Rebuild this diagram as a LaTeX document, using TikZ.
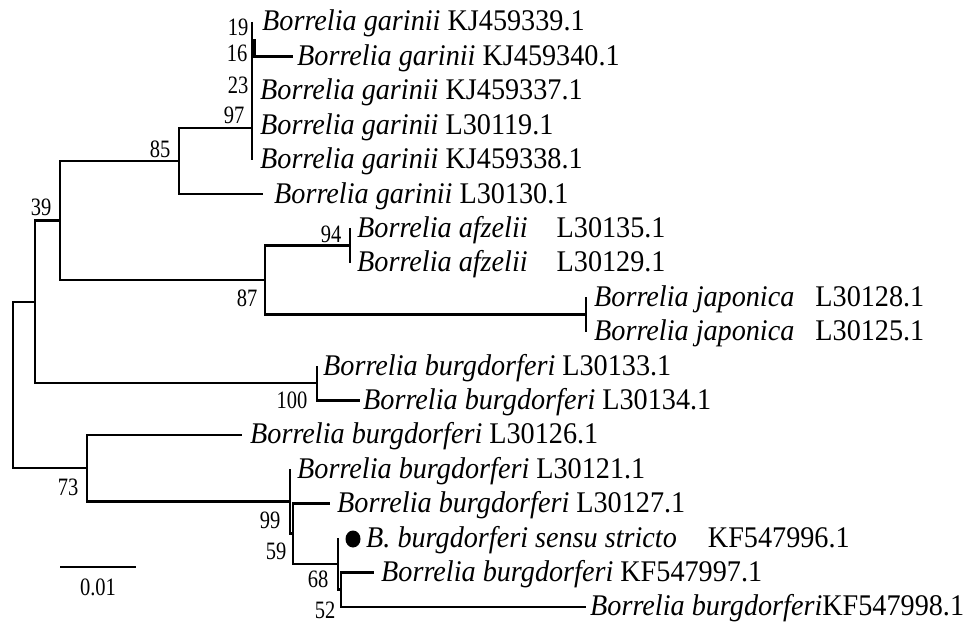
\documentclass[tikz,border=0pt]{standalone}
\usepackage{fontspec}
\setmainfont[FakeStretch=0.94]{Liberation Serif}
\newfontfamily\bootfont[FakeStretch=0.82]{Liberation Serif}
\usetikzlibrary{positioning, calc}

\begin{document}
\begin{tikzpicture}[
    x=1pt, y=-1pt,
    line join=miter,
    %% --- semantic styles ---
    branch/.style  = {draw=black, line width=2.6pt},
    leaf/.style    = {anchor=base west, inner sep=0pt, yshift=-9pt,
                      font=\fontsize{30}{34}\selectfont},
    boot/.style    = {inner sep=0pt, font=\bootfont\fontsize{25}{27}\selectfont},
    marker/.style  = {fill=black, draw=none}
]
\useasboundingbox[fill=white] (0,0) rectangle (968,639);

%% =====================================================
%% Internal nodes (x = distance, y = row)
%% =====================================================
\coordinate (root) at (13,385);
\coordinate (nA)   at (35,302);
\coordinate (nB)   at (87,468);
\coordinate (n39)  at (60,220.5);
\coordinate (n100) at (317,383);
\coordinate (n85)  at (179,161);
\coordinate (n87)  at (265,280);
\coordinate (n97)  at (252,128);
\coordinate (n16)  at (254.5,49);
\coordinate (n19)  at (252,40);
\coordinate (n94)  at (350,245.6);
\coordinate (nJap) at (586,314.4);
\coordinate (n99)  at (290,501.5);
\coordinate (n59)  at (293,533.7);
\coordinate (n68)  at (338,563.8);
\coordinate (n52)  at (341,589.6);

%% =====================================================
%% Leaf tips
%% =====================================================
\coordinate (l1)  at (252,22);
\coordinate (l2)  at (293,56.4);
\coordinate (l5)  at (252,159.6);
\coordinate (l6)  at (263,194);
\coordinate (l7)  at (350,228.4);
\coordinate (l8)  at (350,262.8);
\coordinate (l9)  at (586,297.2);
\coordinate (l10) at (586,331.6);
\coordinate (l11) at (317,366);
\coordinate (l12) at (360,400.4);
\coordinate (l13) at (242,434.8);
\coordinate (l14) at (290,469.2);
\coordinate (l15) at (330,503.6);
\coordinate (l16) at (338,538);
\coordinate (l17) at (374,572.4);
\coordinate (l18) at (586,606.8);

%% =====================================================
%% Branches
%% =====================================================
\foreach \P/\C in {root/nA, root/nB, nA/n39, nA/n100, n39/n85, n39/n87,
                   n85/n97, n85/l6, n87/n94, n87/nJap, n16/l2, n16/n19,
                   n94/l7, n94/l8, n100/l11, n100/l12, nB/l13, nB/n99,
                   n99/l14, n99/n59, n59/l15, n59/n68, n68/l16, n68/n52,
                   n52/l17, n52/l18}
    \draw[branch] (\P) |- (\C);
% zero-length tips
\draw[branch] (l1) -- (l5);
\draw[branch] (l9) -- (l10);

%% =====================================================
%% Taxa
%% =====================================================
\node[leaf] (t1)  at (262,22)    {\textit{Borrelia garinii} KJ459339.1};
\node[leaf] (t2)  at (297,56.4)  {\textit{Borrelia garinii} KJ459340.1};
\node[leaf] (t3)  at (260,90.8)  {\textit{Borrelia garinii} KJ459337.1};
\node[leaf] (t4)  at (260,125.2) {\textit{Borrelia garinii} L30119.1};
\node[leaf] (t5)  at (260,159.6) {\textit{Borrelia garinii} KJ459338.1};
\node[leaf] (t6)  at (274,194)   {\textit{Borrelia garinii} L30130.1};
\node[leaf] (t7)  at (357,228.4) {\textit{Borrelia afzelii}\hspace{29pt}L30135.1};
\node[leaf] (t8)  at (357,262.8) {\textit{Borrelia afzelii}\hspace{29pt}L30129.1};
\node[leaf] (t9)  at (594,297.2) {\textit{Borrelia japonica}\hspace{21pt}L30128.1};
\node[leaf] (t10) at (594,331.6) {\textit{Borrelia japonica}\hspace{21pt}L30125.1};
\node[leaf] (t11) at (323,366)   {\textit{Borrelia burgdorferi} L30133.1};
\node[leaf] (t12) at (363,400.4) {\textit{Borrelia burgdorferi} L30134.1};
\node[leaf] (t13) at (250,434.8) {\textit{Borrelia burgdorferi} L30126.1};
\node[leaf] (t14) at (297,469.2) {\textit{Borrelia burgdorferi} L30121.1};
\node[leaf] (t15) at (337,503.6) {\textit{Borrelia burgdorferi} L30127.1};
\node[leaf] (t16) at (366,538)   {\textit{B. burgdorferi sensu stricto}\hspace{31pt}KF547996.1};
\node[leaf] (t17) at (381,572.4) {\textit{Borrelia burgdorferi} KF547997.1};
\node[leaf] (t18) at (590,606.8) {\textit{Borrelia burgdorferi}KF547998.1};

% reference strain marker
\fill[marker] (353,539) ellipse [x radius=7.5pt, y radius=8.5pt];

%% =====================================================
%% Bootstrap values
%% =====================================================
\node[boot] (b19)  at (238,27)  {19};
\node[boot] (b16)  at (237,53)  {16};
\node[boot] (b23)  at (238,85)  {23};
\node[boot] (b97)  at (234,115) {97};
\node[boot] (b85)  at (160,149) {85};
\node[boot] (b39)  at (41,207)  {39};
\node[boot] (b94)  at (331,234) {94};
\node[boot] (b87)  at (247,298) {87};
\node[boot] (b100) at (292,400) {100};
\node[boot] (b73)  at (68,487)  {73};
\node[boot] (b99)  at (270,520) {99};
\node[boot] (b59)  at (276,551) {59};
\node[boot] (b68)  at (318,579) {68};
\node[boot] (b52)  at (325,610) {52};

%% =====================================================
%% Scale bar
%% =====================================================
\coordinate (sbL) at (60,567);
\coordinate (sbR) at (136,567);
\draw[branch] (sbL) -- (sbR);
\node[boot, below=12pt of $(sbL)!0.5!(sbR)$] (sbText) {0.01};

\end{tikzpicture}
\end{document}
